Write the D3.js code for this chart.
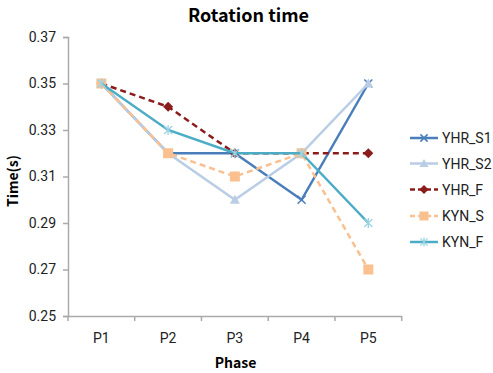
<!DOCTYPE html>
<html><head><meta charset="utf-8">
<script src="https://cdn.jsdelivr.net/npm/d3@7"></script>
<style>body{margin:0;background:#fff;} svg{display:block;font-family:Roboto,"Liberation Sans",Arial,sans-serif;}</style>
</head><body><svg id="c" width="493" height="373"></svg>
<script>
const categories = ["P1","P2","P3","P4","P5"];
const yTicks = [0.25,0.27,0.29,0.31,0.33,0.35,0.37];
const seriesNames = ["YHR_S1","YHR_S2","YHR_F","KYN_S","KYN_F"];
const YHR_S1 = [0.35,0.32,0.32,0.30,0.35];
const YHR_S2 = [0.35,0.32,0.30,0.32,0.35];
const YHR_F  = [0.35,0.34,0.32,0.32,0.32];
const KYN_S  = [0.35,0.32,0.31,0.32,0.27];
const KYN_F  = [0.35,0.33,0.32,0.32,0.29];
const seriesValues = [YHR_S1,YHR_S2,YHR_F,KYN_S,KYN_F];
const styles = [
 {color:"#4a7ebb", dash:null, marker:"x"},
 {color:"#b9cde5", dash:null, marker:"tri"},
 {color:"#8b1c1c", dash:"6,4", marker:"diamond"},
 {color:"#fac090", dash:"6,4", marker:"square"},
 {color:"#4bacc6", dash:null, marker:"star"}
];
const svg = d3.select("#c");
const x = d3.scaleBand().domain(categories).range([68,401.7]);
const y = d3.scaleLinear().domain([0.25,0.37]).range([316,37]);
const tickFont = "Roboto,'Liberation Sans',Arial,sans-serif";
const boldFont = "'Noto Sans CJK KR','Open Sans',sans-serif";

// axes
const gy = svg.append("g").attr("transform","translate(68,0)")
 .call(d3.axisLeft(y).tickValues(yTicks).tickFormat(d3.format(".2f")).tickSizeOuter(0).tickSize(5));
const gx = svg.append("g").attr("transform","translate(0,316)")
 .call(d3.axisBottom(x).tickSize(0).tickSizeOuter(0));
[gy,gx].forEach(g=>{g.selectAll("path,line").attr("stroke","#aaaaaa").attr("stroke-width",1.5);
 g.selectAll("text").attr("fill","#222").style("font-size","14px").style("font-family",tickFont);});
gy.selectAll("text").attr("x",-12);
gx.selectAll("text").attr("y",17);
// x boundary ticks
const bounds = categories.map(c=>x(c)).concat([x.range()[1]]);
svg.append("g").selectAll("line").data(bounds).join("line")
 .attr("x1",d=>d).attr("x2",d=>d).attr("y1",316).attr("y2",321)
 .attr("stroke","#aaaaaa").attr("stroke-width",1.5);

function marker(g, type, color, cx, cy, s){
  s = s||1;
  if(type==="x"){
    g.append("path").attr("d",`M${cx-4*s},${cy-4*s}L${cx+4*s},${cy+4*s}M${cx-4*s},${cy+4*s}L${cx+4*s},${cy-4*s}`).attr("stroke",color).attr("stroke-width",1.5).attr("fill","none");
  } else if(type==="tri"){
    g.append("path").attr("d",`M${cx},${cy-5*s}L${cx+5*s},${cy+4*s}L${cx-5*s},${cy+4*s}Z`).attr("fill",color);
  } else if(type==="diamond"){
    g.append("path").attr("d",`M${cx},${cy-5*s}L${cx+5*s},${cy}L${cx},${cy+5*s}L${cx-5*s},${cy}Z`).attr("fill",color);
  } else if(type==="square"){
    g.append("rect").attr("x",cx-5*s).attr("y",cy-5*s).attr("width",10*s).attr("height",10*s).attr("fill",color);
  } else if(type==="star"){
    g.append("path").attr("d",`M${cx-4*s},${cy-4*s}L${cx+4*s},${cy+4*s}M${cx-4*s},${cy+4*s}L${cx+4*s},${cy-4*s}M${cx},${cy-5*s}L${cx},${cy+5*s}`).attr("stroke","#9dd4e3").attr("stroke-width",1.3).attr("fill","none");
  }
}

const line = d3.line().x((d,i)=>x(categories[i])+x.bandwidth()/2).y(d=>y(d));
seriesValues.forEach((vals,k)=>{
  const st = styles[k];
  const g = svg.append("g");
  g.append("path").datum(vals).attr("d",line).attr("fill","none")
   .attr("stroke",st.color).attr("stroke-width",2.5).attr("stroke-dasharray",st.dash);
  vals.forEach((v,i)=>marker(g, st.marker, st.color, x(categories[i])+x.bandwidth()/2, y(v)));
});

// legend
const legY = [138,163.5,189.5,216,242];
seriesNames.forEach((n,k)=>{
  const st=styles[k];
  const g = svg.append("g");
  g.append("line").attr("x1",410).attr("x2",438).attr("y1",legY[k]).attr("y2",legY[k])
   .attr("stroke",st.color).attr("stroke-width",2.5).attr("stroke-dasharray",st.dash?"5,3":null);
  marker(g, st.marker, st.color, 424, legY[k], 0.9);
  g.append("text").attr("x",442).attr("y",legY[k]+5).text(n).attr("fill","#222")
   .style("font-size","14px").style("font-family",tickFont);
});

// titles
svg.append("text").attr("x",248.5).attr("y",22).attr("text-anchor","middle")
 .style("font-size","18px").style("font-weight","bold").style("font-family",boldFont).attr("fill","#000").text("Rotation time");
svg.append("text").attr("x",235.5).attr("y",368).attr("text-anchor","middle")
 .style("font-size","14px").style("font-weight","bold").style("font-family",boldFont).attr("fill","#000").text("Phase");
svg.append("text").attr("transform","translate(18,181) rotate(-90)").attr("text-anchor","middle")
 .style("font-size","14px").style("font-weight","bold").style("font-family",boldFont).attr("fill","#000").text("Time(s)");
</script></body></html>
